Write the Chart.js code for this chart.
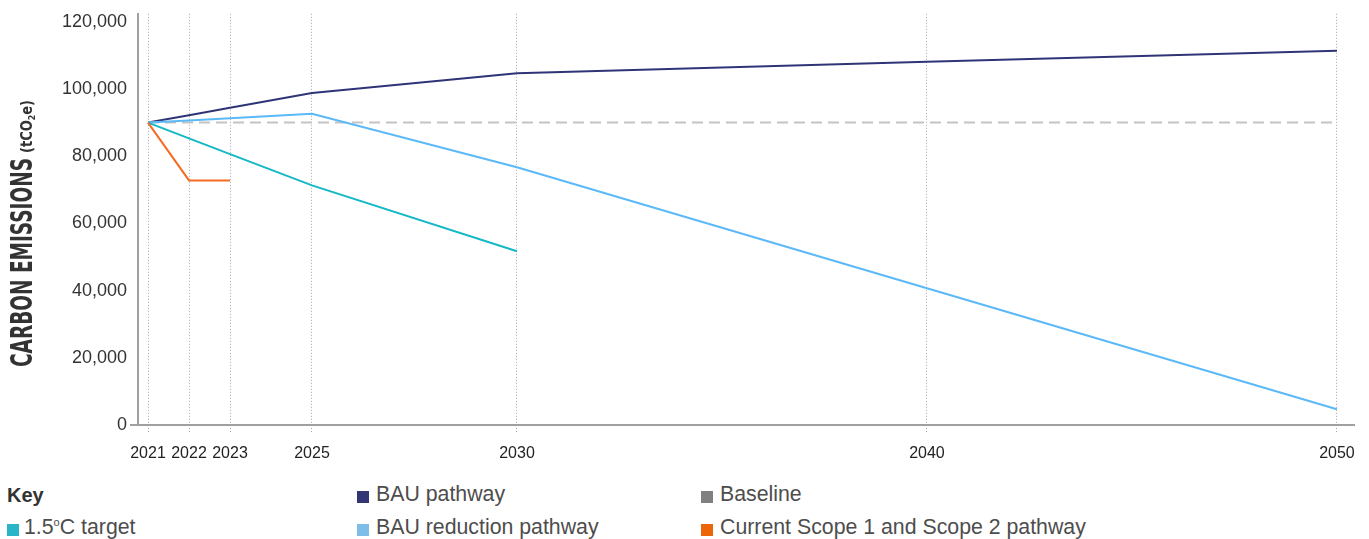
<!DOCTYPE html>
<html>
<head>
<meta charset="utf-8">
<script src="https://cdn.jsdelivr.net/npm/chart.js@4/dist/chart.umd.min.js"></script>
<style>
  html, body { margin: 0; padding: 0; background: #fff; }
  body { width: 1369px; height: 539px; position: relative; overflow: hidden;
         font-family: "Liberation Sans", Arial, Helvetica, sans-serif; }
  #wrap { position: absolute; left: 0; top: 0; width: 1369px; height: 470px; }
  .key { position: absolute; font-size: 21.3px; line-height: 21px; color: #4d4d4d; white-space: nowrap; }
  .key.title { font-weight: bold; color: #333; font-size: 20px; line-height: 20px; }
  .sw { position: absolute; width: 12px; height: 12px; }
  sup { font-size: 11px; vertical-align: 0; position: relative; top: -8px; }
</style>
</head>
<body>
<div id="wrap"><canvas id="chart"></canvas></div>

<div class="key title" style="left:7px; top:485px;">Key</div>

<div class="sw" style="left:7px; top:524px; background:#27b5c7;"></div>
<div class="key" style="left:24px; top:517px;">1.5<sup>o</sup>C target</div>

<div class="sw" style="left:357px; top:491px; background:#343673;"></div>
<div class="key" style="left:376px; top:484px;">BAU pathway</div>
<div class="sw" style="left:357px; top:524px; background:#7dbde8;"></div>
<div class="key" style="left:376px; top:517px;">BAU reduction pathway</div>

<div class="sw" style="left:701px; top:491px; background:#808080;"></div>
<div class="key" style="left:720px; top:484px;">Baseline</div>
<div class="sw" style="left:701px; top:524px; background:#ec6608;"></div>
<div class="key" style="left:720px; top:517px;">Current Scope 1 and Scope 2 pathway</div>

<script>
// Years shown on the horizontal axis
const years = [2021, 2022, 2023, 2025, 2030, 2040, 2050];
// Emissions in tCO2e for each pathway (null where a pathway has no value)
const bauPathway   = [90000, 92200, 94400, 98800, 104700, 108100, 111400];
const bauReduction = [90000, 90600, 91300, 92600, 76700, 40700, 4700];
const target15     = [90000, 85300, 80600, 71300, 51700, null, null];
const currentScope = [90000, 72800, 72800, null, null, null, null];
const baseline     = [90000, null, null, null, null, null, 90000];
// Vertical axis tick values
const yTicks = [0, 20000, 40000, 60000, 80000, 100000, 120000];

function points(values) {
  return years.map((x, i) => ({ x, y: values[i] })).filter(p => p.y !== null);
}

function line(label, values, color, extra) {
  return Object.assign({
    label,
    data: points(values),
    borderColor: color,
    backgroundColor: color,
    borderWidth: 2,
    pointRadius: 0,
    tension: 0,
    fill: false
  }, extra || {});
}

// Rotated, condensed axis title with a small "(tCO2e)" unit
const axisTitle = {
  id: 'axisTitle',
  afterDraw(chart) {
    const ctx = chart.ctx;
    ctx.save();
    ctx.translate(32, 367);
    ctx.rotate(-Math.PI / 2);
    ctx.fillStyle = '#333';
    ctx.textBaseline = 'alphabetic';
    ctx.textAlign = 'left';
    const fam = '"Liberation Sans Narrow", "DejaVu Sans Condensed", "Liberation Sans", sans-serif';

    const main = 'CARBON EMISSIONS';
    ctx.font = 'bold 30px ' + fam;
    const mw = ctx.measureText(main).width;
    const mainLen = 209;
    ctx.save();
    ctx.scale(mainLen / mw, 1);
    ctx.fillText(main, 0, 0);
    ctx.restore();

    const parts = [['(tCO', 'bold 15px ', 0], ['2', 'bold 9px ', 3], ['e)', 'bold 15px ', 0]];
    let total = 0;
    parts.forEach(p => { ctx.font = p[1] + fam; total += ctx.measureText(p[0]).width; });
    const unitLen = 53;
    const sx = unitLen / total;
    ctx.translate(mainLen + 5, 0);
    ctx.scale(sx, 1);
    let x = 0;
    parts.forEach(p => {
      ctx.font = p[1] + fam;
      ctx.fillText(p[0], x, p[2]);
      x += ctx.measureText(p[0]).width;
    });
    ctx.restore();
  }
};

new Chart(document.getElementById('chart'), {
  type: 'line',
  data: {
    datasets: [
      line('Current Scope 1 and Scope 2 pathway', currentScope, '#f36c21'),
      line('1.5\u00B0C target', target15, '#14b8c6'),
      line('BAU reduction pathway', bauReduction, '#5bb9f8'),
      line('Baseline', baseline, '#c4c4c4', { borderDash: [11, 6] }),
      line('BAU pathway', bauPathway, '#2f3477')
    ]
  },
  options: {
    responsive: true,
    maintainAspectRatio: false,
    animation: false,
    layout: { padding: { top: 13, right: 14, left: 0, bottom: 0 } },
    plugins: { legend: { display: false }, tooltip: { enabled: false } },
    scales: {
      x: {
        type: 'linear',
        min: 2020.756,
        max: 2050.44,
        afterBuildTicks(scale) { scale.ticks = years.map(v => ({ value: v })); },
        afterFit(scale) { scale.height = 45; },
        ticks: {
          autoSkip: false,
          maxRotation: 0,
          padding: 12,
          color: '#222',
          font: { family: '"Liberation Sans", Arial, sans-serif', size: 16 },
          callback: v => String(v)
        },
        grid: {
          color: '#a8a8a8',
          lineWidth: 1,
          tickLength: 7,
          tickColor: '#a8a8a8',
          tickBorderDash: [1, 2]
        },
        border: { display: false, dash: [1, 2] }
      },
      y: {
        min: 0,
        max: 122376,
        afterBuildTicks(scale) { scale.ticks = yTicks.map(v => ({ value: v })); },
        afterFit(scale) { scale.width = 138; },
        ticks: {
          padding: 3,
          color: '#333',
          font: { family: '"Liberation Sans", Arial, sans-serif', size: 18 },
          callback: v => Number(v).toLocaleString('en-US')
        },
        grid: {
          lineWidth: 2,
          tickLength: 8,
          color: c => (c.tick && c.tick.value === 0) ? '#a0a0a0' : 'rgba(0,0,0,0)',
          tickColor: c => (c.tick && c.tick.value === 0) ? '#a0a0a0' : 'rgba(0,0,0,0)'
        },
        border: { display: true, color: '#a0a0a0', width: 2 }
      }
    }
  },
  plugins: [axisTitle]
});
</script>
</body>
</html>
